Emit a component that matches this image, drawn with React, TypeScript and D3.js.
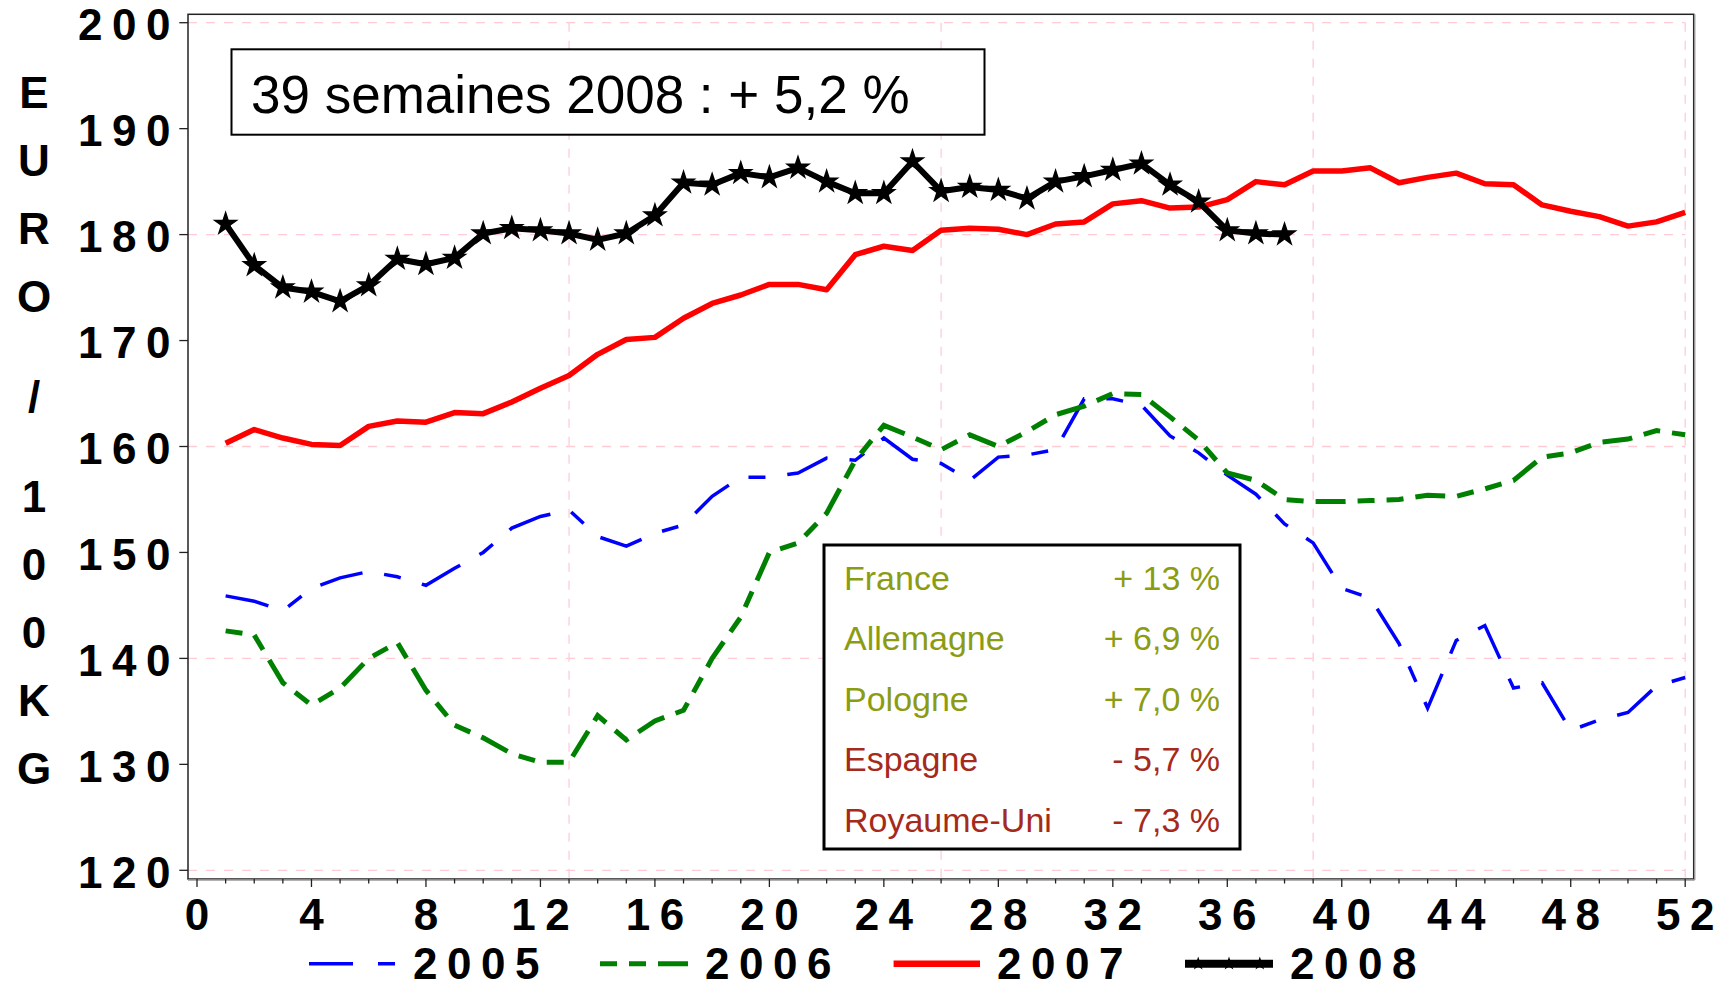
import React from "react";
import * as d3 from "d3";

const v2005 = [145.9,145.4,144.5,146.6,147.6,148.2,147.7,146.9,148.5,150.0,152.3,153.4,154.0,151.5,150.6,151.8,152.6,155.3,157.1,157.1,157.5,158.9,158.7,160.8,158.8,158.4,156.8,159.0,159.2,159.7,164.5,164.5,163.9,161.0,159.4,157.3,155.5,152.7,150.9,146.6,145.7,141.4,135.3,141.7,143.1,137.2,137.7,133.2,134.2,134.9,137.4,138.2];
const v2006 = [142.6,142.2,137.7,135.6,137.2,140.0,141.5,137.0,133.7,132.5,131.0,130.2,130.2,134.6,132.3,134.1,135.1,140.0,143.9,150.0,150.9,153.7,158.7,162.0,160.9,159.7,161.1,160.0,161.4,163.0,163.8,165.0,164.9,162.8,160.6,157.5,156.8,155.0,154.8,154.8,154.9,155.0,155.4,155.3,156.0,156.8,159.0,159.4,160.4,160.7,161.5,161.1];
const v2007 = [160.3,161.6,160.8,160.2,160.1,161.9,162.4,162.3,163.2,163.1,164.2,165.5,166.7,168.7,170.1,170.3,172.1,173.5,174.3,175.3,175.3,174.8,178.1,178.9,178.5,180.4,180.6,180.5,180.0,181.0,181.2,182.9,183.2,182.5,182.6,183.3,185.0,184.7,186.0,186.0,186.3,184.9,185.4,185.8,184.8,184.7,182.8,182.2,181.7,180.8,181.2,182.1];
const v2008 = [181.0,177.1,175.0,174.6,173.7,175.2,177.7,177.2,177.8,180.1,180.6,180.4,180.1,179.5,180.1,181.8,184.9,184.7,185.8,185.4,186.3,185.0,183.9,183.9,186.9,184.1,184.5,184.2,183.4,185.0,185.5,186.1,186.7,184.7,183.1,180.4,180.1,180.0];

const yTicks = [120, 130, 140, 150, 160, 170, 180, 190, 200];
const yGrid = [120, 140, 160, 180, 200];
const xTicks = d3.range(0, 53, 4);
const xMinor = d3.range(0, 53, 1);
const xGrid = [13, 26, 39, 52];

const yearLabels = ["2005", "2006", "2007", "2008"];
const yearColors = ["#0000ff", "#008000", "#ff0000", "#000000"];

const countries = ["France", "Allemagne", "Pologne", "Espagne", "Royaume-Uni"];
const countryValues = ["+ 13 %", "+ 6,9 %", "+ 7,0 %", "- 5,7 %", "- 7,3 %"];
const countryColors = ["#8c9c12", "#8c9c12", "#8c9c12", "#a52a1c", "#a52a1c"];

const boxText = "39 semaines 2008 : + 5,2 %";
const yTitle = ["E", "U", "R", "O", "/", "1", "0", "0", "K", "G"];

const FONT = "'Liberation Sans', Arial, sans-serif";

export default function App() {
  const W = 1726, H = 984;
  const x = d3.scaleLinear().domain([0, 52]).range([197, 1685.2]);
  const y = d3.scaleLinear().domain([120, 200]).range([870.3, 22.7]);
  const frame = { l: 188, t: 14.3, r: 1693.7, b: 879 };

  const mk = (vals: number[]) =>
    d3.line<number>().x((_, i) => x(i + 1)).y((d) => y(d))(vals) || "";

  const star = d3.symbol().type(d3.symbolStar).size(210)() || "";
  const starSmall = d3.symbol().type(d3.symbolStar).size(60)() || "";

  const ls = 9.5;
  const legendSpec = [
    { x0: 309, x1: 395, tx: 413 },
    { x0: 600, x1: 688, tx: 705 },
    { x0: 893.6, x1: 980, tx: 997 },
    { x0: 1185, x1: 1273, tx: 1290 },
  ];
  const legendStyles = [
    { w: 3.5, dash: "44 25 17 25" },
    { w: 5, dash: "17 12 17 12 30 12" },
    { w: 6.5, dash: undefined },
    { w: 8, dash: undefined },
  ];

  let yb = 108;
  const titlePos = yTitle.map((c, i) => {
    if (i > 0) yb += (c === "/" || yTitle[i - 1] === "/") ? 100 : 68;
    return yb;
  });

  return (
    <svg width={W} height={H} style={{ position: "absolute", left: 0, top: 0, background: "#fff" }} fontFamily={FONT}>
      <rect x={0} y={0} width={W} height={H} fill="#fff" />
      {yGrid.map((v) => (
        <line key={"gy" + v} x1={frame.l} x2={x(52)} y1={y(v)} y2={y(v)} stroke="#ffccd6" strokeWidth={1.3} strokeDasharray="9 9" />
      ))}
      {xGrid.map((v) => (
        <line key={"gx" + v} x1={x(v)} x2={x(v)} y1={y(200)} y2={frame.b} stroke="#ffccd6" strokeWidth={1.3} strokeDasharray="9 9" />
      ))}
      <rect x={frame.l} y={frame.t} width={frame.r - frame.l} height={frame.b - frame.t} fill="none" stroke="#222" strokeWidth={1.5} />
      <line x1={frame.l} x2={frame.r + 1} y1={frame.b + 1} y2={frame.b + 1} stroke="#999" strokeWidth={1.5} />
      <line x1={frame.r + 1} x2={frame.r + 1} y1={frame.t} y2={frame.b + 1} stroke="#999" strokeWidth={1.5} />
      {yTicks.map((v) => (
        <g key={"yt" + v}>
          <line x1={179.3} x2={frame.l} y1={y(v)} y2={y(v)} stroke="#222" strokeWidth={1.3} />
          <text x={180} y={y(v) + 17.5} textAnchor="end" fontSize={44} fontWeight="bold" letterSpacing={ls}>{v}</text>
        </g>
      ))}
      {xMinor.map((v) => (
        <line key={"xm" + v} x1={x(v)} x2={x(v)} y1={frame.b} y2={frame.b + (v % 4 === 0 ? 8 : 4.5)} stroke="#222" strokeWidth={1.3} />
      ))}
      {xTicks.map((v) => (
        <text key={"xt" + v} x={x(v) + ls / 2} y={930} textAnchor="middle" fontSize={44} fontWeight="bold" letterSpacing={ls}>{v}</text>
      ))}
      {yTitle.map((c, i) => (
        <text key={"ti" + i} x={34} y={titlePos[i]} textAnchor="middle" fontSize={44} fontWeight="bold">{c}</text>
      ))}
      <path d={mk(v2005)} fill="none" stroke={yearColors[0]} strokeWidth={3.5} strokeDasharray="44 22 17 22" />
      <path d={mk(v2006)} fill="none" stroke={yearColors[1]} strokeWidth={5} strokeDasharray="17 12 17 12 30 12" />
      <path d={mk(v2007)} fill="none" stroke={yearColors[2]} strokeWidth={5.5} strokeLinejoin="round" />
      <path d={mk(v2008)} fill="none" stroke={yearColors[3]} strokeWidth={6} strokeLinejoin="round" />
      {v2008.map((v, i) => (
        <path key={"st" + i} d={star} transform={`translate(${x(i + 1)},${y(v)})`} fill="#000" />
      ))}
      <rect x={231.5} y={49.3} width={753} height={85.4} fill="#fff" stroke="#000" strokeWidth={2} />
      <text x={251} y={113.3} fontSize={53}>{boxText}</text>
      <rect x={824} y={545} width={416} height={304} fill="#fff" stroke="#000" strokeWidth={3} />
      {countries.map((c, i) => (
        <g key={"c" + i}>
          <text x={844} y={589.5 + i * 60.6} fontSize={34} fill={countryColors[i]}>{c}</text>
          <text x={1220} y={589.5 + i * 60.6} fontSize={34} fill={countryColors[i]} textAnchor="end">{countryValues[i]}</text>
        </g>
      ))}
      {yearLabels.map((lab, i) => (
        <g key={"lg" + lab}>
          <line x1={legendSpec[i].x0} x2={legendSpec[i].x1} y1={963.7} y2={963.7} stroke={yearColors[i]} strokeWidth={legendStyles[i].w} strokeDasharray={legendStyles[i].dash} />
          {i === 3 && [0.15, 0.5, 0.85].map((f) => (
            <path key={f} d={starSmall} transform={`translate(${legendSpec[i].x0 + f * (legendSpec[i].x1 - legendSpec[i].x0)},963.7)`} fill="#000" />
          ))}
          <text x={legendSpec[i].tx} y={979} fontSize={44} fontWeight="bold" letterSpacing={ls}>{lab}</text>
        </g>
      ))}
    </svg>
  );
}
